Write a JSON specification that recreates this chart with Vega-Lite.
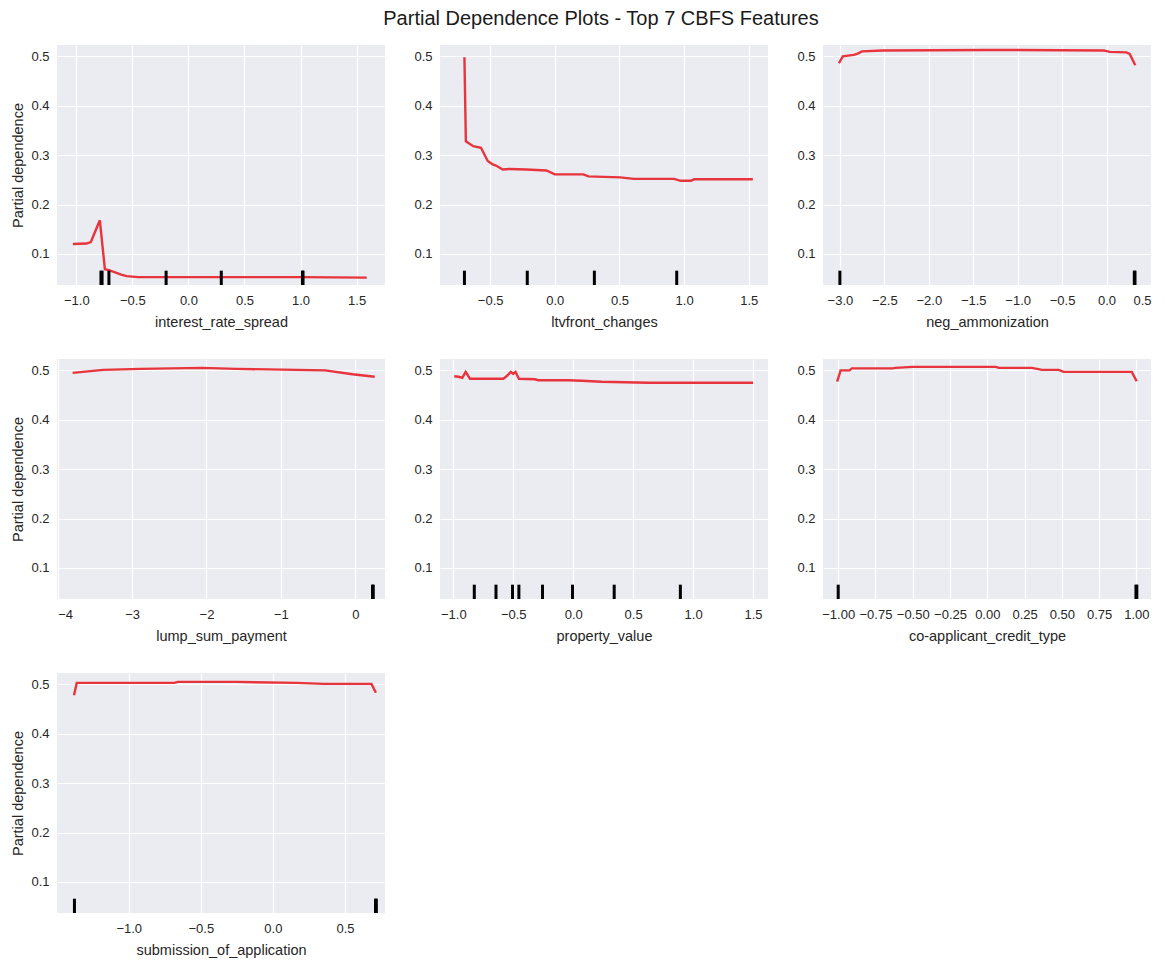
{
  "$schema": "https://vega.github.io/schema/vega-lite/v6.json",
  "background": "white",
  "padding": {"left": 10, "top": 9, "right": 4, "bottom": 4},
  "title": {"text": "Partial Dependence Plots - Top 7 CBFS Features", "font": "Liberation Sans", "fontSize": 20, "fontWeight": "normal", "color": "#1a1a1a", "anchor": "middle", "offset": 16, "dx": 20},
  "datasets": {
    "pd": [
      {"feature": "interest_rate_spread", "x": -1.03, "y": 0.120},
      {"feature": "interest_rate_spread", "x": -0.91, "y": 0.121},
      {"feature": "interest_rate_spread", "x": -0.87, "y": 0.124},
      {"feature": "interest_rate_spread", "x": -0.79, "y": 0.168},
      {"feature": "interest_rate_spread", "x": -0.745, "y": 0.069},
      {"feature": "interest_rate_spread", "x": -0.71, "y": 0.067},
      {"feature": "interest_rate_spread", "x": -0.66, "y": 0.063},
      {"feature": "interest_rate_spread", "x": -0.60, "y": 0.058},
      {"feature": "interest_rate_spread", "x": -0.55, "y": 0.055},
      {"feature": "interest_rate_spread", "x": -0.45, "y": 0.053},
      {"feature": "interest_rate_spread", "x": 0.50, "y": 0.053},
      {"feature": "interest_rate_spread", "x": 1.00, "y": 0.053},
      {"feature": "interest_rate_spread", "x": 1.59, "y": 0.052},
      {"feature": "ltvfront_changes", "x": -0.699, "y": 0.498},
      {"feature": "ltvfront_changes", "x": -0.688, "y": 0.328},
      {"feature": "ltvfront_changes", "x": -0.631, "y": 0.318},
      {"feature": "ltvfront_changes", "x": -0.571, "y": 0.315},
      {"feature": "ltvfront_changes", "x": -0.519, "y": 0.288},
      {"feature": "ltvfront_changes", "x": -0.481, "y": 0.281},
      {"feature": "ltvfront_changes", "x": -0.455, "y": 0.279},
      {"feature": "ltvfront_changes", "x": -0.403, "y": 0.271},
      {"feature": "ltvfront_changes", "x": -0.351, "y": 0.272},
      {"feature": "ltvfront_changes", "x": -0.221, "y": 0.271},
      {"feature": "ltvfront_changes", "x": -0.065, "y": 0.269},
      {"feature": "ltvfront_changes", "x": 0.0, "y": 0.261},
      {"feature": "ltvfront_changes", "x": 0.221, "y": 0.261},
      {"feature": "ltvfront_changes", "x": 0.26, "y": 0.257},
      {"feature": "ltvfront_changes", "x": 0.506, "y": 0.255},
      {"feature": "ltvfront_changes", "x": 0.61, "y": 0.252},
      {"feature": "ltvfront_changes", "x": 0.922, "y": 0.252},
      {"feature": "ltvfront_changes", "x": 0.974, "y": 0.248},
      {"feature": "ltvfront_changes", "x": 1.052, "y": 0.248},
      {"feature": "ltvfront_changes", "x": 1.078, "y": 0.251},
      {"feature": "ltvfront_changes", "x": 1.532, "y": 0.251},
      {"feature": "neg_ammonization", "x": -3.011, "y": 0.486},
      {"feature": "neg_ammonization", "x": -2.967, "y": 0.500},
      {"feature": "neg_ammonization", "x": -2.844, "y": 0.503},
      {"feature": "neg_ammonization", "x": -2.807, "y": 0.505},
      {"feature": "neg_ammonization", "x": -2.751, "y": 0.510},
      {"feature": "neg_ammonization", "x": -2.528, "y": 0.512},
      {"feature": "neg_ammonization", "x": -1.338, "y": 0.513},
      {"feature": "neg_ammonization", "x": -0.037, "y": 0.512},
      {"feature": "neg_ammonization", "x": 0.037, "y": 0.509},
      {"feature": "neg_ammonization", "x": 0.223, "y": 0.508},
      {"feature": "neg_ammonization", "x": 0.26, "y": 0.505},
      {"feature": "neg_ammonization", "x": 0.323, "y": 0.482},
      {"feature": "lump_sum_payment", "x": -3.80, "y": 0.495},
      {"feature": "lump_sum_payment", "x": -3.39, "y": 0.501},
      {"feature": "lump_sum_payment", "x": -2.885, "y": 0.503},
      {"feature": "lump_sum_payment", "x": -2.058, "y": 0.505},
      {"feature": "lump_sum_payment", "x": -1.60, "y": 0.503},
      {"feature": "lump_sum_payment", "x": -0.405, "y": 0.500},
      {"feature": "lump_sum_payment", "x": -0.037, "y": 0.492},
      {"feature": "lump_sum_payment", "x": 0.261, "y": 0.487},
      {"feature": "property_value", "x": -0.992, "y": 0.488},
      {"feature": "property_value", "x": -0.958, "y": 0.487},
      {"feature": "property_value", "x": -0.925, "y": 0.485},
      {"feature": "property_value", "x": -0.897, "y": 0.497},
      {"feature": "property_value", "x": -0.861, "y": 0.483},
      {"feature": "property_value", "x": -0.708, "y": 0.483},
      {"feature": "property_value", "x": -0.583, "y": 0.483},
      {"feature": "property_value", "x": -0.556, "y": 0.488},
      {"feature": "property_value", "x": -0.519, "y": 0.497},
      {"feature": "property_value", "x": -0.500, "y": 0.493},
      {"feature": "property_value", "x": -0.481, "y": 0.497},
      {"feature": "property_value", "x": -0.453, "y": 0.483},
      {"feature": "property_value", "x": -0.319, "y": 0.482},
      {"feature": "property_value", "x": -0.292, "y": 0.480},
      {"feature": "property_value", "x": -0.042, "y": 0.480},
      {"feature": "property_value", "x": 0.069, "y": 0.479},
      {"feature": "property_value", "x": 0.236, "y": 0.477},
      {"feature": "property_value", "x": 0.625, "y": 0.475},
      {"feature": "property_value", "x": 1.500, "y": 0.475},
      {"feature": "co-applicant_credit_type", "x": -1.007, "y": 0.477},
      {"feature": "co-applicant_credit_type", "x": -0.984, "y": 0.500},
      {"feature": "co-applicant_credit_type", "x": -0.924, "y": 0.500},
      {"feature": "co-applicant_credit_type", "x": -0.909, "y": 0.504},
      {"feature": "co-applicant_credit_type", "x": -0.635, "y": 0.504},
      {"feature": "co-applicant_credit_type", "x": -0.617, "y": 0.505},
      {"feature": "co-applicant_credit_type", "x": -0.501, "y": 0.507},
      {"feature": "co-applicant_credit_type", "x": 0.056, "y": 0.507},
      {"feature": "co-applicant_credit_type", "x": 0.078, "y": 0.505},
      {"feature": "co-applicant_credit_type", "x": 0.300, "y": 0.505},
      {"feature": "co-applicant_credit_type", "x": 0.367, "y": 0.501},
      {"feature": "co-applicant_credit_type", "x": 0.479, "y": 0.501},
      {"feature": "co-applicant_credit_type", "x": 0.512, "y": 0.497},
      {"feature": "co-applicant_credit_type", "x": 0.969, "y": 0.497},
      {"feature": "co-applicant_credit_type", "x": 1.002, "y": 0.478},
      {"feature": "submission_of_application", "x": -1.380, "y": 0.478},
      {"feature": "submission_of_application", "x": -1.361, "y": 0.503},
      {"feature": "submission_of_application", "x": -0.684, "y": 0.503},
      {"feature": "submission_of_application", "x": -0.660, "y": 0.505},
      {"feature": "submission_of_application", "x": -0.259, "y": 0.505},
      {"feature": "submission_of_application", "x": 0.165, "y": 0.503},
      {"feature": "submission_of_application", "x": 0.354, "y": 0.501},
      {"feature": "submission_of_application", "x": 0.684, "y": 0.501},
      {"feature": "submission_of_application", "x": 0.715, "y": 0.483}
    ],
    "rug": [
      {"feature": "interest_rate_spread", "x": -0.780},
      {"feature": "interest_rate_spread", "x": -0.770},
      {"feature": "interest_rate_spread", "x": -0.709},
      {"feature": "interest_rate_spread", "x": -0.199},
      {"feature": "interest_rate_spread", "x": 0.293},
      {"feature": "interest_rate_spread", "x": 1.017},
      {"feature": "interest_rate_spread", "x": 1.022},
      {"feature": "ltvfront_changes", "x": -0.699},
      {"feature": "ltvfront_changes", "x": -0.213},
      {"feature": "ltvfront_changes", "x": 0.306},
      {"feature": "ltvfront_changes", "x": 0.943},
      {"feature": "neg_ammonization", "x": -3.0},
      {"feature": "neg_ammonization", "x": 0.312},
      {"feature": "neg_ammonization", "x": 0.320},
      {"feature": "lump_sum_payment", "x": 0.232},
      {"feature": "lump_sum_payment", "x": 0.242},
      {"feature": "property_value", "x": -0.825},
      {"feature": "property_value", "x": -0.644},
      {"feature": "property_value", "x": -0.506},
      {"feature": "property_value", "x": -0.453},
      {"feature": "property_value", "x": -0.256},
      {"feature": "property_value", "x": -0.006},
      {"feature": "property_value", "x": 0.342},
      {"feature": "property_value", "x": 0.894},
      {"feature": "co-applicant_credit_type", "x": -1.0},
      {"feature": "co-applicant_credit_type", "x": 0.997},
      {"feature": "co-applicant_credit_type", "x": 1.003},
      {"feature": "submission_of_application", "x": -1.377},
      {"feature": "submission_of_application", "x": 0.712},
      {"feature": "submission_of_application", "x": 0.718}
    ]
  },
  "columns": 3,
  "spacing": {"row": 30, "column": 28},
  "concat": [
    {
      "width": 328, "height": 240,
      "layer": [
        {"data": {"name": "pd"}, "transform": [{"filter": "datum.feature === 'interest_rate_spread'"}],
         "mark": {"type": "line", "color": "#e8343c", "strokeWidth": 2.4},
         "encoding": {
           "x": {"field": "x", "type": "quantitative", "scale": {"domain": [-1.172, 1.753], "nice": false, "zero": false}, "axis": {"title": "interest_rate_spread", "values": [-1, -0.5, 0, 0.5, 1, 1.5], "format": ".1f"}},
           "y": {"field": "y", "type": "quantitative", "scale": {"domain": [0.037, 0.523], "nice": false, "zero": false}, "axis": {"title": "Partial dependence", "values": [0.1, 0.2, 0.3, 0.4, 0.5], "format": ".1f"}}
         }},
        {"data": {"name": "rug"}, "transform": [{"filter": "datum.feature === 'interest_rate_spread'"}],
         "mark": {"type": "rule", "color": "black", "strokeWidth": 3},
         "encoding": {"x": {"field": "x", "type": "quantitative"}, "y": {"datum": 0.037}, "y2": {"datum": 0.066}}}
      ]
    },
    {
      "width": 328, "height": 240,
      "layer": [
        {"data": {"name": "pd"}, "transform": [{"filter": "datum.feature === 'ltvfront_changes'"}],
         "mark": {"type": "line", "color": "#e8343c", "strokeWidth": 2.4},
         "encoding": {
           "x": {"field": "x", "type": "quantitative", "scale": {"domain": [-0.888, 1.649], "nice": false, "zero": false}, "axis": {"title": "ltvfront_changes", "values": [-0.5, 0, 0.5, 1, 1.5], "format": ".1f"}},
           "y": {"field": "y", "type": "quantitative", "scale": {"domain": [0.037, 0.523], "nice": false, "zero": false}, "axis": {"title": null, "values": [0.1, 0.2, 0.3, 0.4, 0.5], "format": ".1f"}}
         }},
        {"data": {"name": "rug"}, "transform": [{"filter": "datum.feature === 'ltvfront_changes'"}],
         "mark": {"type": "rule", "color": "black", "strokeWidth": 3},
         "encoding": {"x": {"field": "x", "type": "quantitative"}, "y": {"datum": 0.037}, "y2": {"datum": 0.066}}}
      ]
    },
    {
      "width": 328, "height": 240,
      "layer": [
        {"data": {"name": "pd"}, "transform": [{"filter": "datum.feature === 'neg_ammonization'"}],
         "mark": {"type": "line", "color": "#e8343c", "strokeWidth": 2.4},
         "encoding": {
           "x": {"field": "x", "type": "quantitative", "scale": {"domain": [-3.19, 0.5], "nice": false, "zero": false}, "axis": {"title": "neg_ammonization", "values": [-3, -2.5, -2, -1.5, -1, -0.5, 0, 0.5], "format": ".1f"}},
           "y": {"field": "y", "type": "quantitative", "scale": {"domain": [0.037, 0.523], "nice": false, "zero": false}, "axis": {"title": null, "values": [0.1, 0.2, 0.3, 0.4, 0.5], "format": ".1f"}}
         }},
        {"data": {"name": "rug"}, "transform": [{"filter": "datum.feature === 'neg_ammonization'"}],
         "mark": {"type": "rule", "color": "black", "strokeWidth": 3},
         "encoding": {"x": {"field": "x", "type": "quantitative"}, "y": {"datum": 0.037}, "y2": {"datum": 0.066}}}
      ]
    },
    {
      "width": 328, "height": 240,
      "layer": [
        {"data": {"name": "pd"}, "transform": [{"filter": "datum.feature === 'lump_sum_payment'"}],
         "mark": {"type": "line", "color": "#e8343c", "strokeWidth": 2.4},
         "encoding": {
           "x": {"field": "x", "type": "quantitative", "scale": {"domain": [-4.01, 0.40], "nice": false, "zero": false}, "axis": {"title": "lump_sum_payment", "values": [-4, -3, -2, -1, 0], "format": "d"}},
           "y": {"field": "y", "type": "quantitative", "scale": {"domain": [0.037, 0.523], "nice": false, "zero": false}, "axis": {"title": "Partial dependence", "values": [0.1, 0.2, 0.3, 0.4, 0.5], "format": ".1f"}}
         }},
        {"data": {"name": "rug"}, "transform": [{"filter": "datum.feature === 'lump_sum_payment'"}],
         "mark": {"type": "rule", "color": "black", "strokeWidth": 3},
         "encoding": {"x": {"field": "x", "type": "quantitative"}, "y": {"datum": 0.037}, "y2": {"datum": 0.066}}}
      ]
    },
    {
      "width": 328, "height": 240,
      "layer": [
        {"data": {"name": "pd"}, "transform": [{"filter": "datum.feature === 'property_value'"}],
         "mark": {"type": "line", "color": "#e8343c", "strokeWidth": 2.4},
         "encoding": {
           "x": {"field": "x", "type": "quantitative", "scale": {"domain": [-1.111, 1.625], "nice": false, "zero": false}, "axis": {"title": "property_value", "values": [-1, -0.5, 0, 0.5, 1, 1.5], "format": ".1f"}},
           "y": {"field": "y", "type": "quantitative", "scale": {"domain": [0.037, 0.523], "nice": false, "zero": false}, "axis": {"title": null, "values": [0.1, 0.2, 0.3, 0.4, 0.5], "format": ".1f"}}
         }},
        {"data": {"name": "rug"}, "transform": [{"filter": "datum.feature === 'property_value'"}],
         "mark": {"type": "rule", "color": "black", "strokeWidth": 3},
         "encoding": {"x": {"field": "x", "type": "quantitative"}, "y": {"datum": 0.037}, "y2": {"datum": 0.066}}}
      ]
    },
    {
      "width": 328, "height": 240,
      "layer": [
        {"data": {"name": "pd"}, "transform": [{"filter": "datum.feature === 'co-applicant_credit_type'"}],
         "mark": {"type": "line", "color": "#e8343c", "strokeWidth": 2.4},
         "encoding": {
           "x": {"field": "x", "type": "quantitative", "scale": {"domain": [-1.102, 1.098], "nice": false, "zero": false}, "axis": {"title": "co-applicant_credit_type", "values": [-1, -0.75, -0.5, -0.25, 0, 0.25, 0.5, 0.75, 1], "format": ".2f"}},
           "y": {"field": "y", "type": "quantitative", "scale": {"domain": [0.037, 0.523], "nice": false, "zero": false}, "axis": {"title": null, "values": [0.1, 0.2, 0.3, 0.4, 0.5], "format": ".1f"}}
         }},
        {"data": {"name": "rug"}, "transform": [{"filter": "datum.feature === 'co-applicant_credit_type'"}],
         "mark": {"type": "rule", "color": "black", "strokeWidth": 3},
         "encoding": {"x": {"field": "x", "type": "quantitative"}, "y": {"datum": 0.037}, "y2": {"datum": 0.066}}}
      ]
    },
    {
      "width": 328, "height": 240,
      "layer": [
        {"data": {"name": "pd"}, "transform": [{"filter": "datum.feature === 'submission_of_application'"}],
         "mark": {"type": "line", "color": "#e8343c", "strokeWidth": 2.4},
         "encoding": {
           "x": {"field": "x", "type": "quantitative", "scale": {"domain": [-1.498, 0.778], "nice": false, "zero": false}, "axis": {"title": "submission_of_application", "values": [-1, -0.5, 0, 0.5], "format": ".1f"}},
           "y": {"field": "y", "type": "quantitative", "scale": {"domain": [0.037, 0.523], "nice": false, "zero": false}, "axis": {"title": "Partial dependence", "values": [0.1, 0.2, 0.3, 0.4, 0.5], "format": ".1f"}}
         }},
        {"data": {"name": "rug"}, "transform": [{"filter": "datum.feature === 'submission_of_application'"}],
         "mark": {"type": "rule", "color": "black", "strokeWidth": 3},
         "encoding": {"x": {"field": "x", "type": "quantitative"}, "y": {"datum": 0.037}, "y2": {"datum": 0.066}}}
      ]
    }
  ],
  "config": {
    "view": {"fill": "#EBEBF2", "stroke": null},
    "axis": {
      "domain": false, "ticks": false,
      "grid": true, "gridColor": "#ffffff", "gridWidth": 1.2,
      "labelFont": "Liberation Sans", "labelFontSize": 13, "labelColor": "#262626",
      "titleFont": "Liberation Sans", "titleFontSize": 14.5, "titleFontWeight": "normal", "titleColor": "#262626",
      "labelPadding": 9, "titlePadding": 8
    },
    "axisY": {"labelPadding": 8, "titlePadding": 5}
  }
}
